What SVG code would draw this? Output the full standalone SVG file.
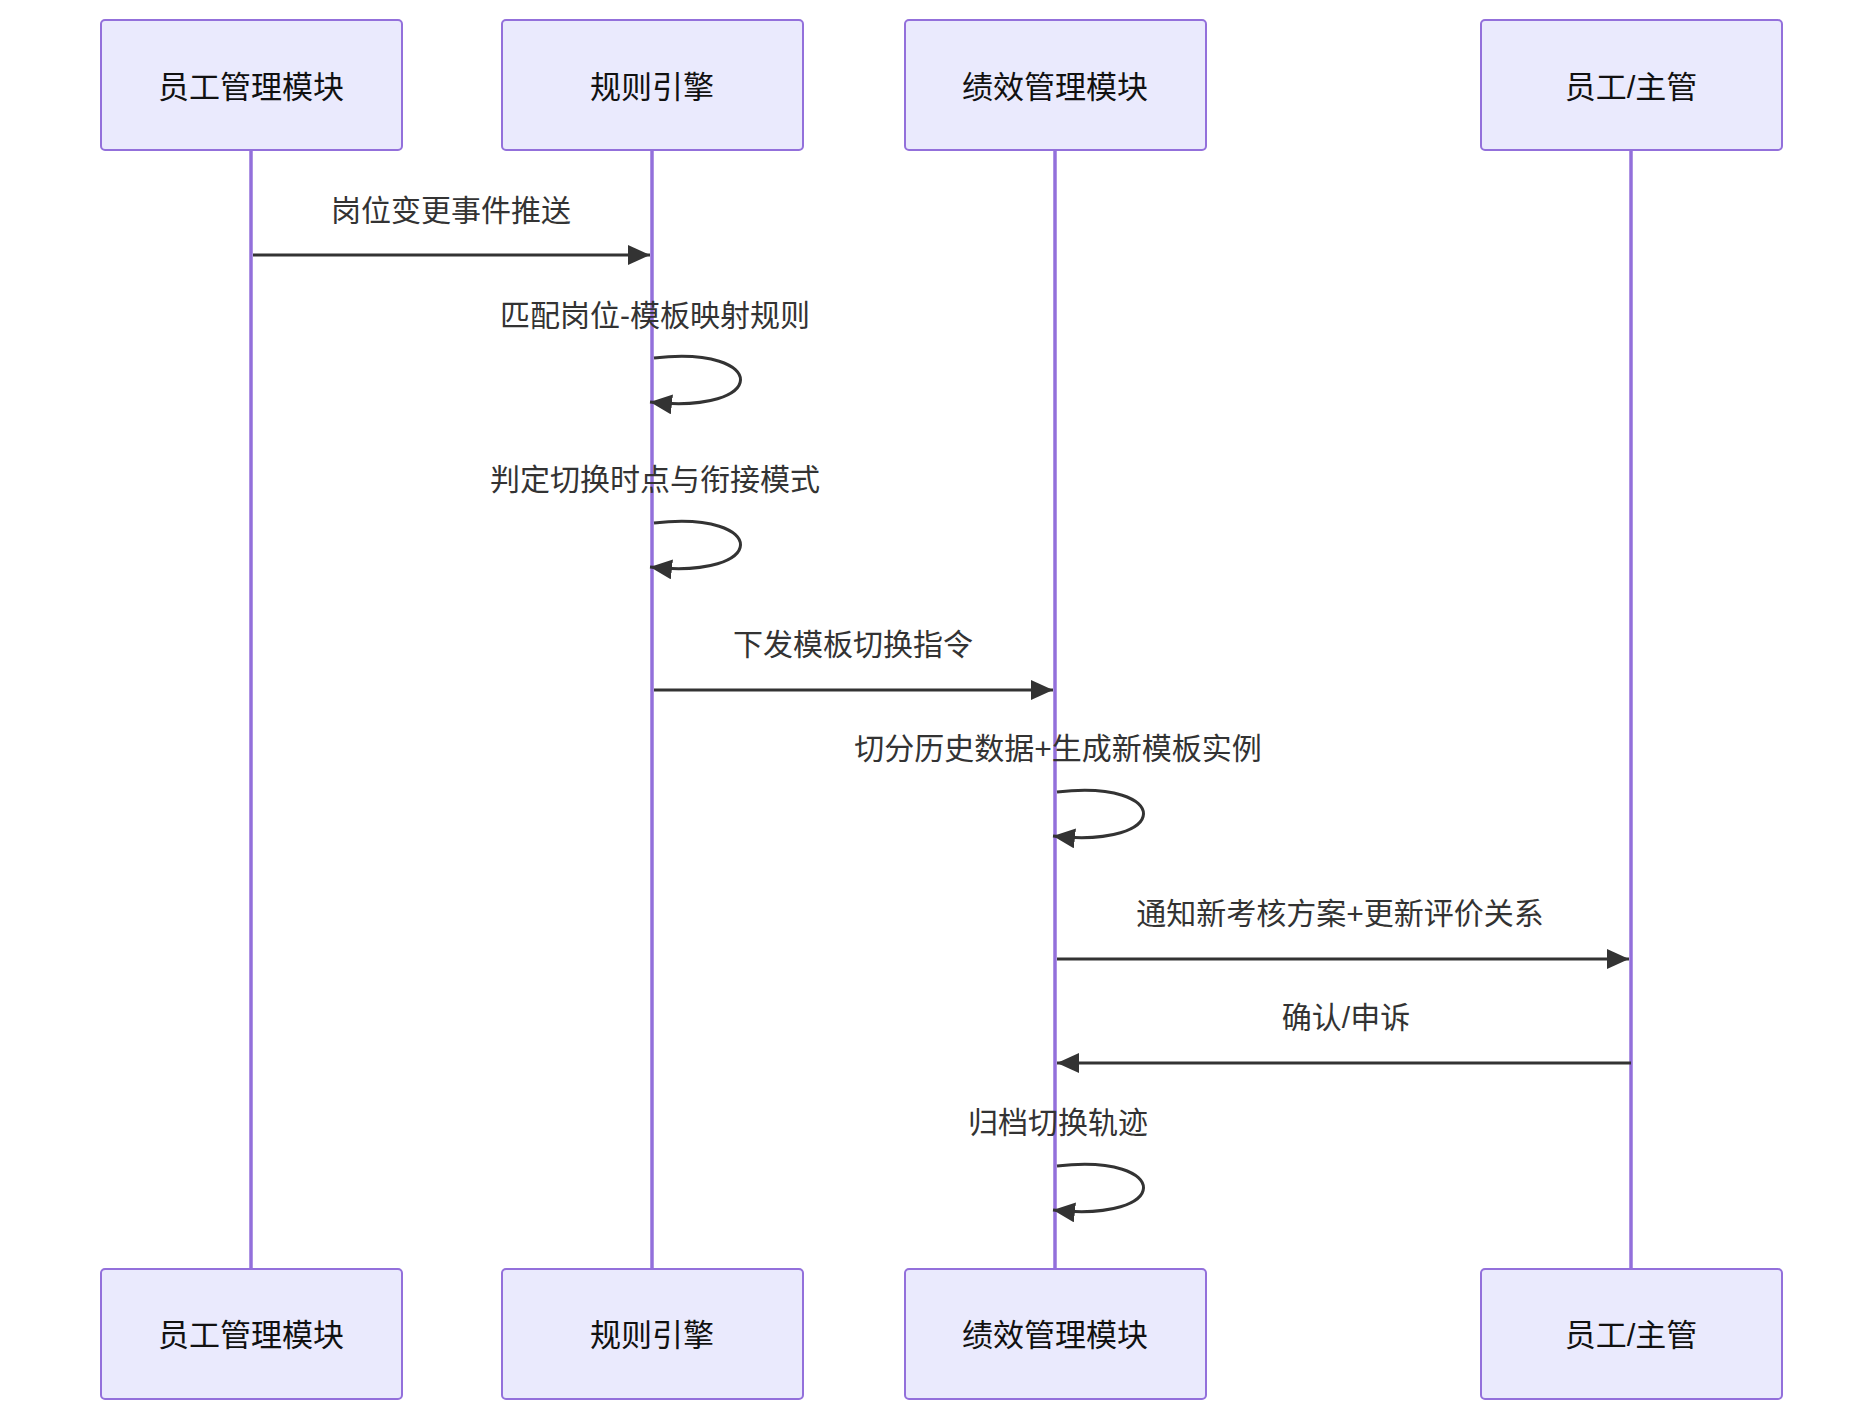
<svg xmlns="http://www.w3.org/2000/svg" width="1874" height="1414" viewBox="0 0 1874 1414">
<style>
.box{fill:#eaeafd;stroke:#9370db;stroke-width:2}
.life{stroke:#9370db;stroke-width:3.5}
.t{font-family:"Liberation Sans","Noto Sans CJK SC",sans-serif;font-size:31px;fill:#111;text-anchor:middle;dominant-baseline:central}
.m{font-family:"Liberation Sans","Noto Sans CJK SC",sans-serif;font-size:30px;fill:#333;text-anchor:middle;dominant-baseline:central}
.msg{stroke:#333;stroke-width:3;fill:none}
</style>
<defs>
<marker id="ah" viewBox="0 0 12 10" refX="12" refY="5" markerWidth="12" markerHeight="10" markerUnits="userSpaceOnUse" orient="auto"><path d="M0,0 L12,5 L0,10 z" fill="#333"/></marker>
<marker id="ah2" viewBox="0 0 22 20" refX="22" refY="10" markerWidth="22" markerHeight="20" markerUnits="userSpaceOnUse" orient="auto"><path d="M0,0 L22,10 L0,20 z" fill="#333"/></marker>
</defs>
<g id="lifelines">
<line class="life" x1="251" y1="150" x2="251" y2="1269"/>
<line class="life" x1="652" y1="150" x2="652" y2="1269"/>
<line class="life" x1="1055" y1="150" x2="1055" y2="1269"/>
<line class="life" x1="1631" y1="150" x2="1631" y2="1269"/>
</g>
<g id="a-top"><rect class="box" x="101" y="20" width="301" height="130" rx="4"/><text class="t" x="251" y="87">员工管理模块</text></g>
<g id="b-top"><rect class="box" x="502" y="20" width="301" height="130" rx="4"/><text class="t" x="652" y="87">规则引擎</text></g>
<g id="c-top"><rect class="box" x="905" y="20" width="301" height="130" rx="4"/><text class="t" x="1055" y="87">绩效管理模块</text></g>
<g id="d-top"><rect class="box" x="1481" y="20" width="301" height="130" rx="4"/><text class="t" x="1631" y="87">员工/主管</text></g>
<g id="a-bot"><rect class="box" x="101" y="1269" width="301" height="130" rx="4"/><text class="t" x="251" y="1335">员工管理模块</text></g>
<g id="b-bot"><rect class="box" x="502" y="1269" width="301" height="130" rx="4"/><text class="t" x="652" y="1335">规则引擎</text></g>
<g id="c-bot"><rect class="box" x="905" y="1269" width="301" height="130" rx="4"/><text class="t" x="1055" y="1335">绩效管理模块</text></g>
<g id="d-bot"><rect class="box" x="1481" y="1269" width="301" height="130" rx="4"/><text class="t" x="1631" y="1335">员工/主管</text></g>
<g id="connectors">
<line class="msg" x1="253" y1="255" x2="650" y2="255" marker-end="url(#ah2)"/>
<path class="msg" d="M654,358 C770,345 770,415 650,402" marker-end="url(#ah2)"/>
<path class="msg" d="M654,523 C770,510 770,580 650,567" marker-end="url(#ah2)"/>
<line class="msg" x1="654" y1="690" x2="1053" y2="690" marker-end="url(#ah2)"/>
<path class="msg" d="M1057,792 C1173,779 1173,849 1053,836" marker-end="url(#ah2)"/>
<line class="msg" x1="1057" y1="959" x2="1629" y2="959" marker-end="url(#ah2)"/>
<line class="msg" x1="1631" y1="1063" x2="1057" y2="1063" marker-end="url(#ah2)"/>
<path class="msg" d="M1057,1166 C1173,1153 1173,1223 1053,1210" marker-end="url(#ah2)"/>
</g>
<g id="labels">
<text class="m" x="451" y="210">岗位变更事件推送</text>
<text class="m" x="655" y="315">匹配岗位-模板映射规则</text>
<text class="m" x="655" y="479">判定切换时点与衔接模式</text>
<text class="m" x="853" y="644">下发模板切换指令</text>
<text class="m" x="1058" y="748">切分历史数据+生成新模板实例</text>
<text class="m" x="1340" y="913">通知新考核方案+更新评价关系</text>
<text class="m" x="1346" y="1017">确认/申诉</text>
<text class="m" x="1058" y="1122">归档切换轨迹</text>
</g>
</svg>
